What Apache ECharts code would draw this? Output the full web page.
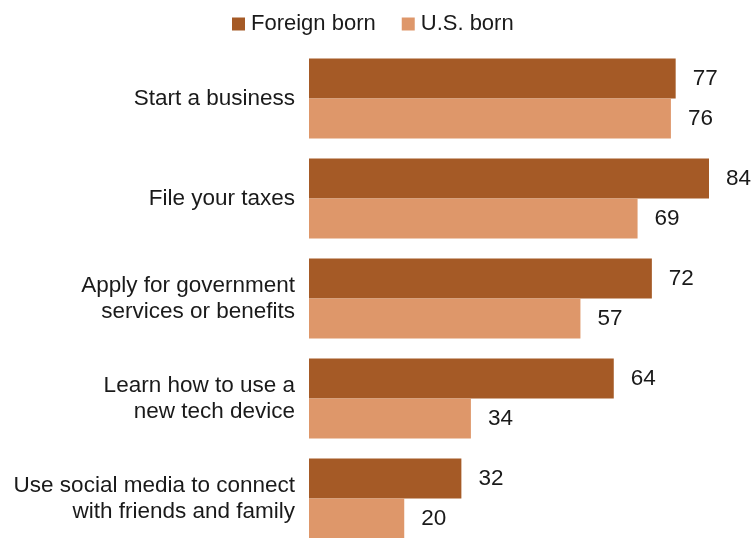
<!DOCTYPE html>
<html>
<head>
<meta charset="utf-8">
<script src="https://cdn.jsdelivr.net/npm/echarts@6/dist/echarts.min.js"></script>
<style>
  html, body { margin: 0; padding: 0; background: #fff; }
  #chart { width: 753px; height: 538px; }
</style>
</head>
<body>
<div id="chart"></div>
<script>
// Tasks, top to bottom
const categories = [
  'Start a business',
  'File your taxes',
  'Apply for government\nservices or benefits',
  'Learn how to use a\nnew tech device',
  'Use social media to connect\nwith friends and family'
];
const seriesNames = ['Foreign born', 'U.S. born'];
const foreignBorn = [77, 84, 72, 64, 32];
const usBorn = [76, 69, 57, 34, 20];

const FONT = '"Liberation Sans", Arial, sans-serif';
const TEXT = '#1a1a1a';
const colors = ['#A55A26', '#DE976A'];

const chart = echarts.init(document.getElementById('chart'));

const labelStyle = {
  show: true,
  position: 'right',
  distance: 17,
  color: TEXT,
  fontFamily: FONT,
  fontSize: 22.5
};

chart.setOption({
  animation: false,
  color: colors,
  legend: {
    data: seriesNames,
    left: 227,
    top: 8,
    itemWidth: 13,
    itemHeight: 13,
    itemGap: 26,
    icon: 'rect',
    textStyle: { color: TEXT, fontFamily: FONT, fontSize: 22, padding: [0, 0, 0, 1] }
  },
  grid: {
    left: 309,
    top: 48.5,
    width: 442.86,
    height: 500,
    containLabel: false,
    outerBoundsMode: 'none'
  },
  xAxis: {
    type: 'value',
    min: 0,
    max: 93,
    show: false
  },
  yAxis: {
    type: 'category',
    data: categories,
    inverse: true,
    axisLine: { show: false },
    axisTick: { show: false },
    splitLine: { show: false },
    axisLabel: {
      margin: 14,
      color: TEXT,
      fontFamily: FONT,
      fontSize: 22.5,
      lineHeight: 26,
      align: 'right'
    }
  },
  series: [
    {
      name: seriesNames[0],
      type: 'bar',
      data: foreignBorn,
      barGap: '0%',
      barCategoryGap: '20%',
      label: labelStyle
    },
    {
      name: seriesNames[1],
      type: 'bar',
      data: usBorn,
      barGap: '0%',
      barCategoryGap: '20%',
      label: labelStyle
    }
  ]
});
</script>
</body>
</html>
